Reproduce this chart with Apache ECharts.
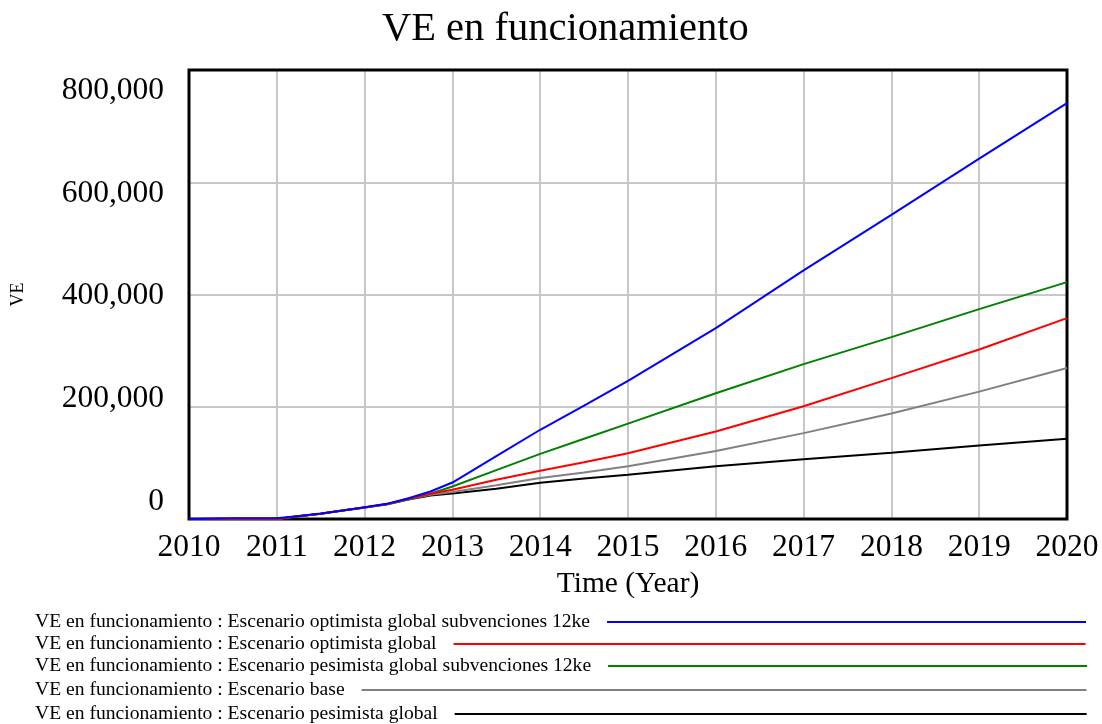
<!DOCTYPE html>
<html>
<head>
<meta charset="utf-8">
<script src="https://cdn.jsdelivr.net/npm/echarts@6/dist/echarts.min.js"></script>
<style>
  html, body { margin: 0; padding: 0; background: #fff; }
  #chart { width: 1102px; height: 724px; }
</style>
</head>
<body>
<div id="chart"></div>
<script>
// Simulation output sample times (years)
const times = [2010, 2010.5, 2011, 2011.25, 2011.5, 2011.75, 2012, 2012.25, 2012.5, 2012.75,
               2013, 2013.5, 2014, 2014.5, 2015, 2016, 2017, 2018, 2019, 2020];

// VE en funcionamiento, per scenario
const optimistaSubv = [0, 1500, 1500, 5500, 9800, 15000, 21000, 27000, 37000, 49000,
                       65000, 112000, 159000, 202000, 246000, 340000, 443000, 542000, 642000, 741000];
const optimista     = [0, 0, 0, 5000, 9500, 15000, 20500, 26500, 36000, 45000,
                       52000, 70000, 86000, 101000, 117000, 156000, 201000, 251000, 302000, 358000];
const pesimistaSubv = [0, 0, 0, 5000, 9500, 15000, 20500, 26500, 35000, 45000,
                       58000, 87000, 116000, 143000, 170000, 224000, 276000, 324000, 374000, 422000];
const base          = [0, 0, 0, 5000, 9500, 15000, 20500, 26500, 35000, 43000,
                       48000, 60000, 73000, 83000, 94000, 121000, 153000, 188000, 227000, 269000];
const pesimista     = [0, 0, 0, 5000, 9500, 15000, 20500, 26000, 34500, 42000,
                       45500, 54000, 64500, 72000, 79000, 94000, 106500, 118000, 131000, 143000];

// Tick labels
const yLabelValues = [0, 200000, 400000, 600000, 800000];

const seriesDefs = [
  { name: 'VE en funcionamiento : Escenario optimista global subvenciones 12ke', data: optimistaSubv, color: '#0000ff' },
  { name: 'VE en funcionamiento : Escenario optimista global', data: optimista, color: '#ff0000' },
  { name: 'VE en funcionamiento : Escenario pesimista global subvenciones 12ke', data: pesimistaSubv, color: '#008000' },
  { name: 'VE en funcionamiento : Escenario base', data: base, color: '#808080' },
  { name: 'VE en funcionamiento : Escenario pesimista global', data: pesimista, color: '#000000' }
];

const FONT = '"Liberation Serif", "Times New Roman", serif';
const gridTop = 70, gridBottomY = 519;

// Legend rows: text on the left, a long line key on the right running to x = 1087
const legendRows = [
  { top: 612, lineStart: 608 },
  { top: 634, lineStart: 455 },
  { top: 656, lineStart: 608 },
  { top: 680, lineStart: 362 },
  { top: 704, lineStart: 455 }
];

const legends = seriesDefs.map((s, i) => ({
  data: [s.name],
  left: 35,
  top: legendRows[i].top,
  orient: 'horizontal',
  align: 'right',
  padding: 0,
  selectedMode: false,
  icon: 'rect',
  itemWidth: 1087 - legendRows[i].lineStart,
  itemHeight: 2,
  textStyle: { fontFamily: FONT, fontSize: 19.6, color: '#000', padding: [0, 12, 0, 0] }
}));

// Label axis places the value labels in the stacked layout typical of Vensim plots
const labelAxisMin = -34060, labelAxisMax = 839915;

const option = {
  backgroundColor: '#fff',
  animation: false,
  title: {
    text: 'VE en funcionamiento',
    left: 377,
    top: 4,
    textStyle: { fontFamily: FONT, fontSize: 40.5, fontWeight: 'normal', color: '#000' }
  },
  legend: legends,
  grid: {
    left: 189, right: 35, top: gridTop, bottom: 724 - gridBottomY, z: 1,
    show: true, borderColor: '#000', borderWidth: 3, backgroundColor: 'transparent'
  },
  xAxis: {
    type: 'value', min: 2010, max: 2020, interval: 1,
    name: 'Time (Year)', nameLocation: 'middle', nameGap: 50,
    nameTextStyle: { fontFamily: FONT, fontSize: 29.5, color: '#000' },
    axisLine: { show: false }, axisTick: { show: false },
    axisLabel: { fontFamily: FONT, fontSize: 31.5, color: '#000', margin: 13, formatter: v => String(v) },
    splitLine: { show: true, lineStyle: { color: '#c8c8c8', width: 2 } }
  },
  yAxis: [
    {
      type: 'value', min: 0, max: 800000, interval: 200000,
      name: 'VE', nameLocation: 'middle', nameGap: 162, nameRotate: 90,
      nameTextStyle: { fontFamily: FONT, fontSize: 18, color: '#000' },
      axisLine: { show: false }, axisTick: { show: false }, axisLabel: { show: false },
      splitLine: { show: true, lineStyle: { color: '#c8c8c8', width: 2 } }
    },
    {
      type: 'value', position: 'left', min: labelAxisMin, max: labelAxisMax,
      axisLine: { show: false }, axisTick: { show: false }, splitLine: { show: false },
      axisLabel: {
        customValues: yLabelValues, margin: 25,
        fontFamily: FONT, fontSize: 31.5, color: '#000',
        formatter: v => Number(v).toLocaleString('en-US')
      }
    }
  ],
  series: seriesDefs.slice().reverse().map(s => ({
    name: s.name,
    type: 'line',
    yAxisIndex: 0,
    z: 3,
    data: times.map((t, i) => [t, s.data[i]]),
    showSymbol: false,
    clip: false,
    color: s.color,
    lineStyle: { color: s.color, width: 2 },
    itemStyle: { color: s.color }
  }))
};

const chart = echarts.init(document.getElementById('chart'), null, { renderer: 'canvas' });
chart.setOption(option);
</script>
</body>
</html>
